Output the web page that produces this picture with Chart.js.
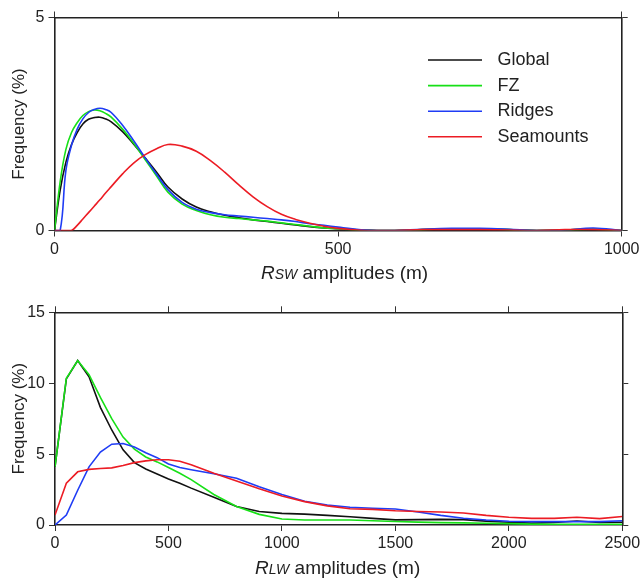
<!DOCTYPE html>
<html>
<head>
<meta charset="utf-8">
<script src="https://cdn.jsdelivr.net/npm/chart.js@4.4.1/dist/chart.umd.min.js"></script>
<style>
  body { margin: 0; background: #fff; }
  #wrap { position: relative; width: 644px; height: 579px; }
  canvas { position: absolute; left: 0; }
</style>
</head>
<body>
<div id="wrap">
  <canvas id="chartSW" width="644" height="290" style="top:0px"></canvas>
  <canvas id="chartLW" width="644" height="289" style="top:290px"></canvas>
</div>
<script>
// series names and colours
var seriesNames = ["Global", "FZ", "Ridges", "Seamounts"];
var seriesColors = ["#111111", "#17e017", "#1f3cf5", "#ec1c24"];

// top panel: RSW amplitudes (m) vs frequency (%)
var swX = [0, 10, 20, 30, 40, 50, 60, 70, 80, 90, 100, 120, 140, 160, 180, 200, 225, 250, 275, 300,
           325, 350, 375, 400, 425, 450, 475, 500, 525, 550, 575, 600, 650, 700, 750, 800, 850, 900, 950, 1000];
var swGlobal = [0, 0.95, 1.6, 2.02, 2.3, 2.5, 2.61, 2.65, 2.66, 2.62, 2.55, 2.32, 2.02, 1.7, 1.37, 1.02, 0.74, 0.55, 0.44, 0.36,
                0.3, 0.25, 0.21, 0.17, 0.13, 0.09, 0.06, 0.04, 0.02, 0.01, 0, 0, 0.02, 0.03, 0.03, 0.02, 0, 0.01, 0.03, 0];
var swFZ = [0, 1.15, 1.9, 2.3, 2.53, 2.7, 2.79, 2.83, 2.81, 2.75, 2.66, 2.38, 2.04, 1.66, 1.28, 0.9, 0.62, 0.47, 0.37, 0.31,
            0.28, 0.25, 0.22, 0.18, 0.14, 0.1, 0.06, 0.04, 0.02, 0.01, 0, 0, 0.02, 0.04, 0.04, 0.02, 0, 0.01, 0.03, 0];
var swRidges = [0, 0, 1.4, 2.0, 2.38, 2.62, 2.77, 2.84, 2.87, 2.84, 2.77, 2.47, 2.1, 1.7, 1.32, 0.96, 0.66, 0.5, 0.42, 0.37,
                0.34, 0.31, 0.28, 0.25, 0.21, 0.16, 0.12, 0.08, 0.04, 0.01, 0, 0, 0.03, 0.05, 0.05, 0.03, 0, 0.01, 0.06, 0];
var swSeamounts = [0, 0, 0, 0, 0.12, 0.27, 0.42, 0.57, 0.72, 0.88, 1.03, 1.33, 1.59, 1.78, 1.92, 2.02, 1.98, 1.86, 1.64, 1.37,
                   1.07, 0.79, 0.56, 0.38, 0.26, 0.17, 0.1, 0.05, 0.02, 0, 0, 0, 0.02, 0.02, 0.02, 0.01, 0, 0.02, 0.02, 0];

// bottom panel: RLW amplitudes (m) vs frequency (%)
var lwX = [0, 50, 100, 150, 200, 250, 300, 350, 400, 450, 500, 550, 600, 700, 800, 900, 1000,
           1100, 1200, 1300, 1400, 1500, 1600, 1700, 1800, 1900, 2000, 2100, 2200, 2300, 2400, 2500];
var lwGlobal = [4.1, 10.3, 11.6, 10.45, 8.3, 6.7, 5.3, 4.4, 3.95, 3.6, 3.25, 2.95, 2.6, 1.95, 1.3, 0.95, 0.82,
                0.77, 0.68, 0.58, 0.47, 0.36, 0.38, 0.4, 0.38, 0.27, 0.19, 0.13, 0.18, 0.28, 0.18, 0.19];
var lwFZ = [4.1, 10.35, 11.6, 10.6, 9.0, 7.5, 6.2, 5.35, 4.8, 4.45, 4.05, 3.65, 3.2, 2.15, 1.3, 0.75, 0.42,
            0.35, 0.35, 0.35, 0.3, 0.25, 0.2, 0.17, 0.15, 0.12, 0.1, 0.06, 0.05, 0.05, 0.05, 0.05];
var lwRidges = [0, 0.7, 2.45, 4.1, 5.15, 5.7, 5.75, 5.5, 5.1, 4.75, 4.3, 4.05, 3.9, 3.62, 3.3, 2.7, 2.15,
                1.68, 1.4, 1.25, 1.18, 1.13, 0.92, 0.68, 0.48, 0.35, 0.26, 0.24, 0.24, 0.24, 0.24, 0.3];
var lwSeamounts = [0.7, 2.95, 3.75, 3.92, 3.98, 4.03, 4.2, 4.4, 4.52, 4.6, 4.6, 4.5, 4.25, 3.65, 3.1, 2.55, 2.05,
                   1.65, 1.35, 1.15, 1.1, 1.0, 0.95, 0.92, 0.85, 0.68, 0.55, 0.47, 0.47, 0.55, 0.45, 0.6];

var FONT = "'Liberation Sans', Arial, Helvetica, sans-serif";
Chart.defaults.font.family = FONT;
Chart.defaults.color = "#222";

// axis title with italic R + small caps subscript, drawn as canvas text
function titlePlugin(parts, shift) {
  return {
    id: "xTitle",
    afterDraw: function (chart) {
      var ctx = chart.ctx, area = chart.chartArea;
      ctx.save();
      ctx.fillStyle = "#222";
      ctx.textBaseline = "alphabetic";
      var total = 0;
      parts.forEach(function (p) { ctx.font = p.font; total += ctx.measureText(p.text).width; });
      var x = (area.left + area.right) / 2 + shift - total / 2;
      var y = area.bottom + 48.5;
      parts.forEach(function (p) {
        ctx.font = p.font;
        ctx.fillText(p.text, x, y);
        x += ctx.measureText(p.text).width;
      });
      ctx.restore();
    }
  };
}

// legend drawn inside the plot, right side
var legendPlugin = {
  id: "insideLegend",
  afterDraw: function (chart) {
    var ctx = chart.ctx, area = chart.chartArea;
    ctx.save();
    ctx.font = "18px " + FONT;
    ctx.textBaseline = "middle";
    chart.data.datasets.forEach(function (ds, i) {
      var y = area.top + 42.5 + i * 25.6;
      ctx.strokeStyle = ds.borderColor;
      ctx.lineWidth = 1.6;
      ctx.beginPath();
      ctx.moveTo(area.left + 373.5, y);
      ctx.lineTo(area.left + 427.5, y);
      ctx.stroke();
      ctx.fillStyle = "#222";
      ctx.fillText(ds.label, area.left + 443, y);
    });
    ctx.restore();
  }
};

function plainTick(v) { return String(v); }

function makeChart(id, xs, ys, xMax, xStep, yMax, g, plugins, tension) {
  var canvas = document.getElementById(id);
  var H = canvas.height;
  var datasets = ys.map(function (arr, i) {
    return {
      label: seriesNames[i],
      data: xs.map(function (x, j) { return { x: x, y: arr[j] }; }),
      borderColor: seriesColors[i],
      borderWidth: 1.6,
      pointRadius: 0,
      fill: false,
      order: 3 - i,
      tension: tension
    };
  });
  var axisLine = { color: "#222", width: 1.6 };
  var tickGrid = { drawOnChartArea: false, drawTicks: true, tickLength: 6, color: "#333", lineWidth: 1 };
  var tickFont = { size: 16 };
  return new Chart(canvas.getContext("2d"), {
    type: "line",
    data: { datasets: datasets },
    options: {
      responsive: false,
      animation: false,
      layout: { padding: { left: 0, top: g.top - 6, right: 644 - g.right - 6, bottom: 0 } },
      plugins: { legend: { display: false }, tooltip: { enabled: false } },
      scales: {
        x: {
          type: "linear", position: "bottom", min: 0, max: xMax,
          ticks: { stepSize: xStep, font: tickFont, padding: 3, maxRotation: 0, color: "#222", callback: plainTick },
          grid: tickGrid, border: axisLine,
          afterFit: function (s) { s.height = H - g.bottom; }
        },
        x2: {
          type: "linear", position: "top", min: 0, max: xMax,
          ticks: { stepSize: xStep, display: false },
          grid: tickGrid, border: axisLine,
          afterFit: function (s) { s.height = 6; }
        },
        y: {
          type: "linear", position: "left", min: 0, max: yMax,
          ticks: { stepSize: 5, font: tickFont, padding: 4, color: "#222", callback: plainTick },
          grid: tickGrid, border: axisLine,
          title: { display: true, text: "Frequency (%)", font: { size: 17 }, color: "#222", padding: { top: 9.5, bottom: 0 } },
          afterFit: function (s) { s.width = g.left; }
        },
        y2: {
          type: "linear", position: "right", min: 0, max: yMax,
          ticks: { stepSize: 5, display: false },
          grid: tickGrid, border: axisLine,
          afterFit: function (s) { s.width = 6; }
        }
      }
    },
    plugins: plugins
  });
}

makeChart("chartSW", swX, [swGlobal, swFZ, swRidges, swSeamounts], 1000, 500, 5,
  { left: 54.5, right: 621.7, top: 17.5, bottom: 230.5 },
  [titlePlugin([
    { text: "R", font: "italic 19px " + FONT },
    { text: "SW", font: "italic 14px " + FONT },
    { text: " amplitudes (m)", font: "19px " + FONT }
  ], 6.5), legendPlugin], 0.4);

makeChart("chartLW", lwX, [lwGlobal, lwFZ, lwRidges, lwSeamounts], 2500, 500, 15,
  { left: 55, right: 622.3, top: 22.3, bottom: 235 },
  [titlePlugin([
    { text: "R", font: "italic 19px " + FONT },
    { text: "LW", font: "italic 14px " + FONT },
    { text: " amplitudes (m)", font: "19px " + FONT }
  ], -1)], 0);
</script>
</body>
</html>
